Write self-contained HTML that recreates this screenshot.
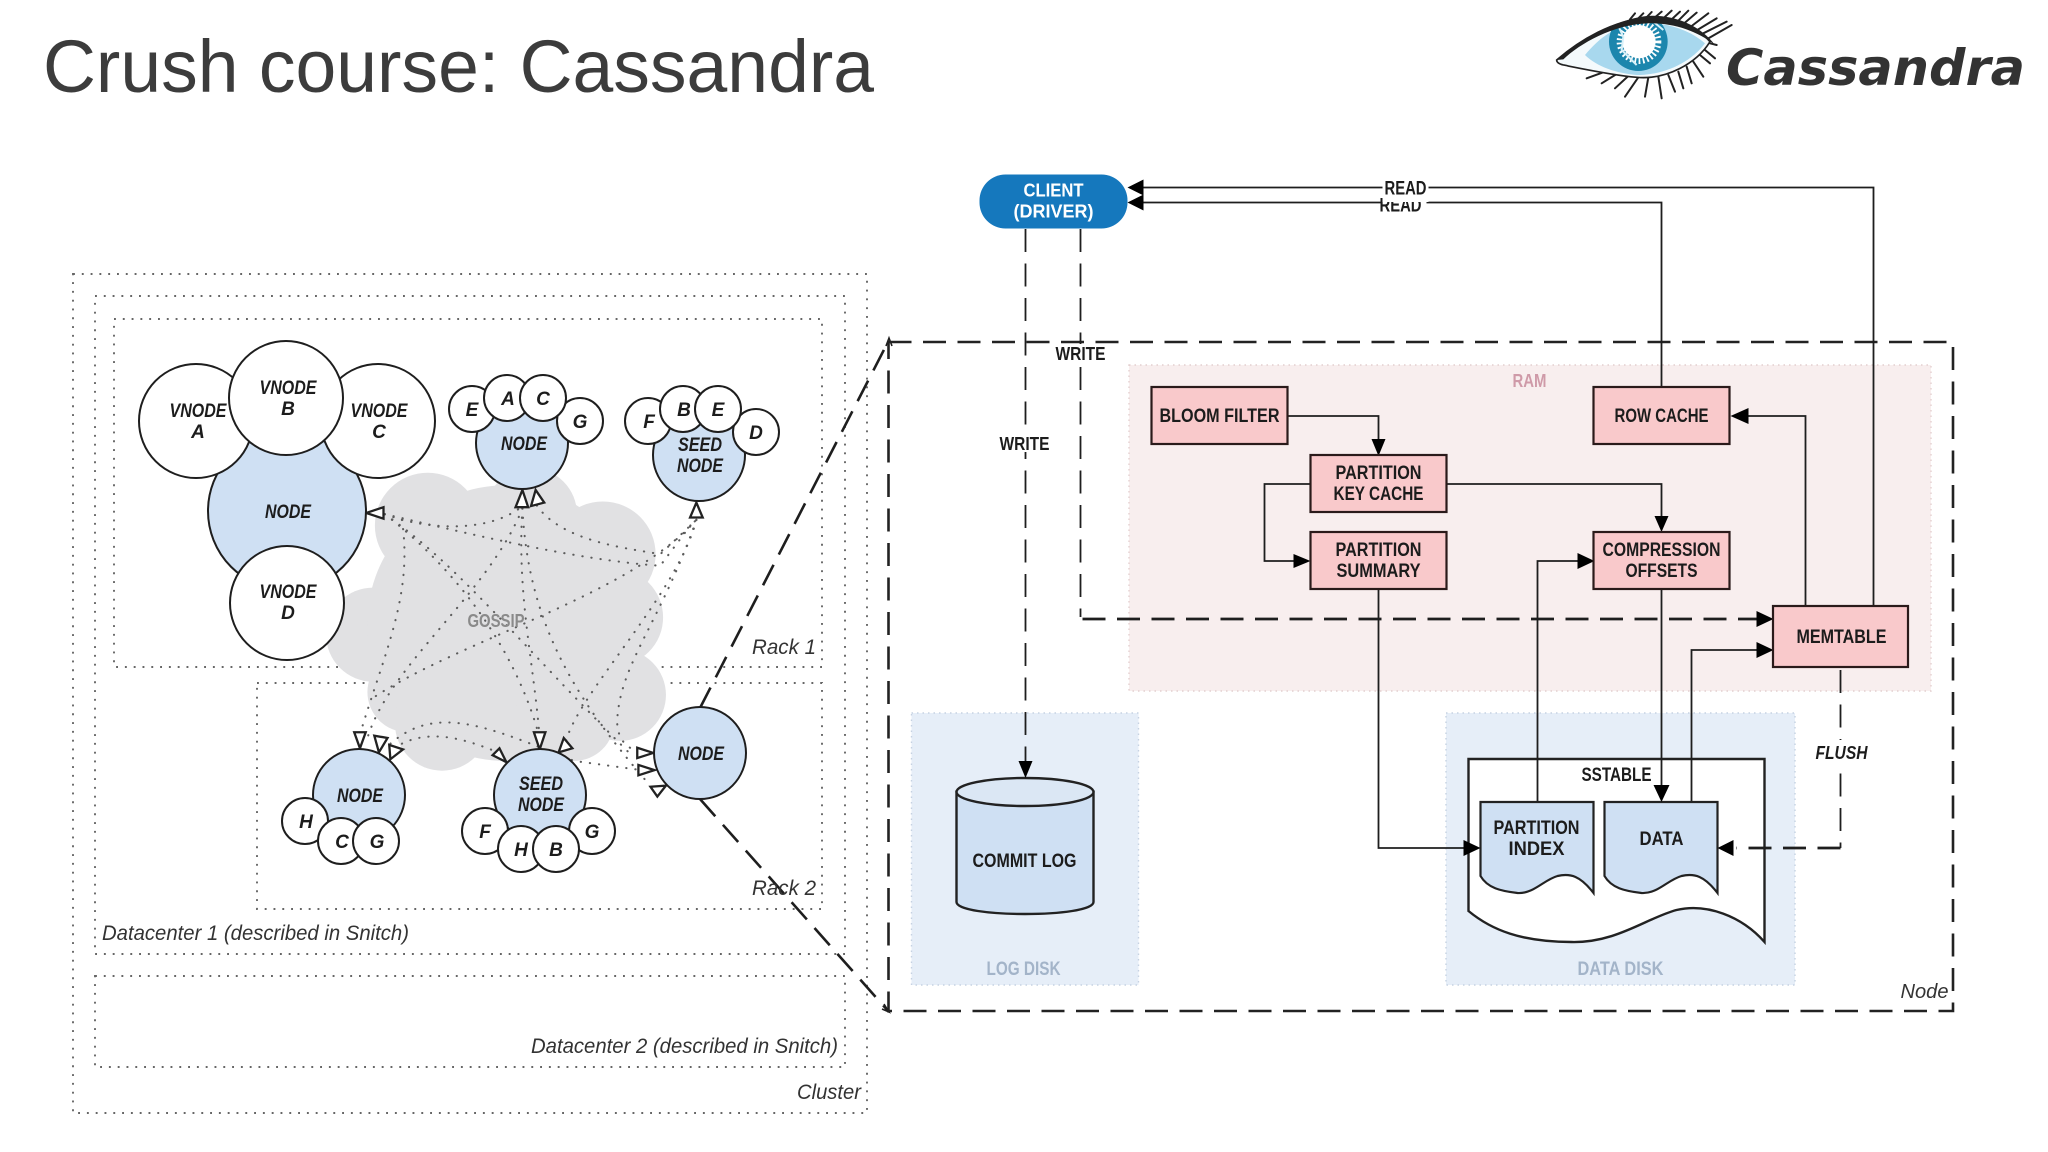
<!DOCTYPE html>
<html><head><meta charset="utf-8"><title>Crush course: Cassandra</title>
<style>html,body{margin:0;padding:0;background:#fff;width:2048px;height:1152px;overflow:hidden}svg{display:block}
.h{font-family:"Liberation Sans",sans-serif;font-style:italic;font-weight:bold;fill:#1c1c1c;text-anchor:middle}
.b{font-family:"Liberation Sans",sans-serif;font-weight:bold;fill:#1c1c1c;text-anchor:middle}
.l{font-family:"Liberation Sans",sans-serif;font-style:italic;fill:#333}
.dot{fill:none;stroke:#666;stroke-width:1.9;stroke-dasharray:1.9 6.9}
.c{stroke:#1e1e1e;stroke-width:2}
.w{fill:#fff}.n{fill:#cfe0f3}.p{fill:#f9c9cb;stroke:#2a1a1a;stroke-width:2.2}
.ln{fill:none;stroke:#1e1e1e;stroke-width:1.8}
.a{fill:#000}
</style></head><body>
<svg width="2048" height="1152" viewBox="0 0 2048 1152" xmlns="http://www.w3.org/2000/svg">
<defs><clipPath id="eye"><path d="M50 180C120 120 220 60 320 55C400 50 470 80 510 125C470 190 380 240 290 232C220 226 120 205 70 195C58 192 50 187 50 180Z"/></clipPath></defs>
<rect width="2048" height="1152" fill="#fff"/>
<text x="43" y="92" font-family="Liberation Sans, sans-serif" font-size="74" fill="#3c3c3c" textLength="831" lengthAdjust="spacingAndGlyphs">Crush course: Cassandra</text>

<!-- logo -->
<g transform="translate(1540,0) scale(.3333)">
<g stroke="#222" stroke-width="6" fill="none" stroke-linecap="round">
<path d="M270 58L285 40M295 55L310 40M320 52L335 36M345 52L365 35M370 55L395 32M395 58L420 35M415 62L445 32M435 68L470 38M455 78L505 40M475 88L530 55M490 100L560 65M505 115L575 75"/>
<path d="M510 130L530 135M495 150L525 175M480 165L510 190M460 185L490 230M440 200L455 250M415 215L430 265M385 225L405 275M355 230L365 295M325 232L315 290M295 232L255 290M265 228L225 265M230 222L185 250M195 215L140 235"/>
</g>
<path d="M50 180C120 120 220 60 320 55C400 50 470 80 510 125C470 190 380 240 290 232C220 226 120 205 70 195C58 192 50 187 50 180Z" fill="#f4fafc" stroke="#222" stroke-width="5"/>
<g clip-path="url(#eye)">
<path d="M135 165C180 110 230 75 300 70C380 65 450 90 495 130C450 190 370 225 290 225C230 220 170 200 135 165Z" fill="#a8d8ee"/>
<circle cx="295" cy="125" r="88" fill="#1c86ad"/>
<circle cx="297" cy="125" r="50" fill="#fff"/>
<circle cx="297" cy="125" r="56" fill="none" stroke="#fff" stroke-width="22" stroke-dasharray="5 7"/>
<path d="M238 85L250 110L245 150L290 195M340 65L370 90" fill="none" stroke="#d8f0f8" stroke-width="6"/>
</g>
<path d="M50 180C120 120 220 60 320 48C400 42 480 75 525 135C470 92 400 68 320 70C220 74 120 130 70 178Z" fill="#222"/>
</g>
<text x="1726" y="85" font-family="DejaVu Sans, sans-serif" font-size="50" font-weight="bold" font-style="italic" fill="#333" textLength="299" lengthAdjust="spacingAndGlyphs">Cassandra</text>

<!-- left containers -->
<rect class="dot" x="73" y="274" width="794" height="839"/>
<rect class="dot" x="95" y="296" width="750" height="658"/>
<rect class="dot" x="95" y="976" width="750" height="91"/>
<rect class="dot" x="114" y="319" width="708" height="348"/>
<rect class="dot" x="257" y="683" width="565" height="226"/>

<!-- cloud -->
<g transform="translate(0,250) scale(.5741)">
<g fill="#e1e1e3">
<circle cx="745" cy="480" r="92"/><circle cx="925" cy="460" r="80"/><circle cx="1050" cy="530" r="92"/>
<circle cx="1070" cy="640" r="85"/><circle cx="1080" cy="775" r="80"/><circle cx="1000" cy="820" r="70"/>
<circle cx="770" cy="825" r="82"/><circle cx="650" cy="670" r="82"/><circle cx="710" cy="770" r="70"/>
<circle cx="880" cy="650" r="240"/><circle cx="920" cy="850" r="60"/>
</g>
<g fill="none" stroke="#5c5c5c" stroke-width="3.6" stroke-linecap="round" stroke-dasharray="0.5 15.5">
<path d="M670 460C750 490 850 490 905 450"/>
<path d="M670 460C800 490 1000 540 1150 550L1210 470"/>
<path d="M670 460C800 550 900 680 1100 880"/>
<path d="M700 470C720 600 670 700 625 850"/>
<path d="M670 460C800 560 900 700 940 850"/>
<path d="M910 450C900 600 930 720 940 850"/>
<path d="M910 450C850 600 680 720 640 850"/>
<path d="M935 445C980 510 1100 520 1150 530L1213 470"/>
<path d="M1213 470C1100 600 800 680 650 780"/>
<path d="M1213 470C1150 650 1080 720 1075 820C1075 860 1100 870 1115 875"/>
<path d="M680 860C760 790 850 830 1000 890L1110 905"/>
<path d="M700 860C760 830 830 860 880 880"/>
<path d="M910 450C920 650 1000 780 1130 930"/>
<path d="M1213 470C1180 600 1000 780 985 860"/>
</g>
<g fill="#fff" stroke="#222" stroke-width="4">
<polygon points="638,458 668,448 668,468"/>
<polygon points="933,418 925,446 948,440"/>
<polygon points="910,418 898,448 920,448"/>
<polygon points="1213,440 1202,466 1224,466"/>
<polygon points="627,868 617,840 637,840"/>
<polygon points="660,875 652,846 675,850"/>
<polygon points="680,887 678,862 702,870"/>
<polygon points="882,892 858,880 870,868"/>
<polygon points="940,870 930,840 950,840"/>
<polygon points="973,875 982,850 997,868"/>
<polygon points="1138,876 1110,867 1110,885"/>
<polygon points="1140,906 1112,897 1112,915"/>
<polygon points="1160,933 1133,935 1145,952"/>
</g>
</g>
<text class="b" x="496" y="627" font-size="18" style="fill:#8a8a8a" textLength="57" lengthAdjust="spacingAndGlyphs">GOSSIP</text>

<!-- projection lines -->
<path d="M700 708L889 340M700 799L889 1012" fill="none" stroke="#1e1e1e" stroke-width="2.6" stroke-dasharray="23 11.5"/>
<path d="M886 346L889 338L892 346M882 1009L889 1012L884 1004" fill="none" stroke="#1e1e1e" stroke-width="1.6"/>

<!-- big node -->
<circle class="c n" cx="287" cy="511" r="79"/>
<circle class="c w" cx="196" cy="421" r="57"/>
<circle class="c w" cx="378" cy="421" r="57"/>
<circle class="c w" cx="286" cy="398" r="57"/>
<circle class="c w" cx="287" cy="603" r="57"/>
<!-- top node -->
<circle class="c n" cx="522" cy="443" r="46"/>
<circle class="c w" cx="472" cy="409" r="23"/><circle class="c w" cx="580" cy="421" r="23"/>
<circle class="c w" cx="507" cy="398" r="23"/><circle class="c w" cx="543" cy="398" r="23"/>
<!-- seed top -->
<circle class="c n" cx="699" cy="455" r="46"/>
<circle class="c w" cx="648" cy="421" r="23"/><circle class="c w" cx="756" cy="432" r="23"/>
<circle class="c w" cx="683" cy="409" r="23"/><circle class="c w" cx="718" cy="409" r="23"/>
<!-- right node -->
<circle class="c n" cx="700" cy="753" r="46"/>
<!-- bottom left -->
<circle class="c n" cx="359" cy="795" r="46"/>
<circle class="c w" cx="305" cy="821" r="23"/><circle class="c w" cx="341" cy="841" r="23"/><circle class="c w" cx="376" cy="841" r="23"/>
<!-- seed bottom -->
<circle class="c n" cx="540" cy="795" r="46"/>
<circle class="c w" cx="485" cy="831" r="23"/><circle class="c w" cx="592" cy="831" r="23"/>
<circle class="c w" cx="521" cy="849" r="23"/><circle class="c w" cx="556" cy="849" r="23"/>

<g font-size="19">
<text class="h" x="198" y="417" textLength="57" lengthAdjust="spacingAndGlyphs">VNODE</text><text class="h" x="198" y="438">A</text>
<text class="h" x="288" y="394" textLength="57" lengthAdjust="spacingAndGlyphs">VNODE</text><text class="h" x="288" y="415">B</text>
<text class="h" x="379" y="417" textLength="57" lengthAdjust="spacingAndGlyphs">VNODE</text><text class="h" x="379" y="438">C</text>
<text class="h" x="288" y="518" textLength="46" lengthAdjust="spacingAndGlyphs">NODE</text>
<text class="h" x="288" y="598" textLength="57" lengthAdjust="spacingAndGlyphs">VNODE</text><text class="h" x="288" y="619">D</text>
<text class="h" x="524" y="450" textLength="46" lengthAdjust="spacingAndGlyphs">NODE</text>
<text class="h" x="472" y="416">E</text><text class="h" x="508" y="405">A</text><text class="h" x="543" y="405">C</text><text class="h" x="580" y="428">G</text>
<text class="h" x="649" y="428">F</text><text class="h" x="684" y="416">B</text><text class="h" x="718" y="416">E</text><text class="h" x="756" y="439">D</text>
<text class="h" x="700" y="451" textLength="44" lengthAdjust="spacingAndGlyphs">SEED</text><text class="h" x="700" y="472" textLength="46" lengthAdjust="spacingAndGlyphs">NODE</text>
<text class="h" x="701" y="760" textLength="46" lengthAdjust="spacingAndGlyphs">NODE</text>
<text class="h" x="360" y="802" textLength="46" lengthAdjust="spacingAndGlyphs">NODE</text>
<text class="h" x="306" y="828">H</text><text class="h" x="342" y="848">C</text><text class="h" x="377" y="848">G</text>
<text class="h" x="541" y="790" textLength="44" lengthAdjust="spacingAndGlyphs">SEED</text><text class="h" x="541" y="811" textLength="46" lengthAdjust="spacingAndGlyphs">NODE</text>
<text class="h" x="485" y="838">F</text><text class="h" x="521" y="856">H</text><text class="h" x="556" y="856">B</text><text class="h" x="592" y="838">G</text>
</g>

<g font-size="21">
<text class="l" x="752" y="654" textLength="64" lengthAdjust="spacingAndGlyphs">Rack 1</text>
<text class="l" x="752" y="895" textLength="64" lengthAdjust="spacingAndGlyphs">Rack 2</text>
<text class="l" x="102" y="940" textLength="307" lengthAdjust="spacingAndGlyphs">Datacenter 1 (described in Snitch)</text>
<text class="l" x="531" y="1053" textLength="307" lengthAdjust="spacingAndGlyphs">Datacenter 2 (described in Snitch)</text>
<text class="l" x="797" y="1099" textLength="64" lengthAdjust="spacingAndGlyphs">Cluster</text>
</g>

<!-- right side containers -->
<rect x="1129" y="365" width="802" height="326" fill="#f8eeee" stroke="#e3cfcf" stroke-width="1.4" stroke-dasharray="1.5 4"/>
<rect x="888.5" y="342" width="1064.5" height="669" fill="none" stroke="#222" stroke-width="2.6" stroke-dasharray="23 11.5"/>

<g transform="translate(-3.5,-2)">
<rect x="915" y="715" width="227" height="272" fill="#e6eef8" stroke="#c5d2e2" stroke-width="1.4" stroke-dasharray="1.5 4"/>
<rect x="1449.5" y="715" width="349" height="272" fill="#e6eef8" stroke="#c5d2e2" stroke-width="1.4" stroke-dasharray="1.5 4"/>
<text class="b" x="1533" y="389" font-size="18" style="fill:#cf9aa8" textLength="34" lengthAdjust="spacingAndGlyphs">RAM</text>
<text class="b" x="1027" y="977" font-size="19" style="fill:#a3b4c9" textLength="74" lengthAdjust="spacingAndGlyphs">LOG DISK</text>
<text class="b" x="1624" y="977" font-size="19" style="fill:#a3b4c9" textLength="86" lengthAdjust="spacingAndGlyphs">DATA DISK</text>
<text class="l" x="1904" y="1000" font-size="20" textLength="48" lengthAdjust="spacingAndGlyphs">Node</text>

<!-- SSTable -->
<path d="M1472 761H1768V944C1745 918 1710 905 1680 912C1650 920 1620 945 1575 944C1525 944 1495 932 1472 913Z" fill="#fff" stroke="#222" stroke-width="2.4"/>

<!-- connectors -->
<path class="ln" d="M1029 231V782" stroke-dasharray="23 11.5"/>
<path class="ln" d="M1084 231V619" stroke-dasharray="23 11.5"/>
<path class="ln" style="stroke-width:2.8" d="M1086 621H1760" stroke-dasharray="23 11.5"/>
<path class="ln" d="M1844 672V850" stroke-dasharray="23 11.5"/>
<path class="ln" style="stroke-width:2.8" d="M1844 850H1740" stroke-dasharray="23 11.5"/>
<path class="ln" d="M1877 610V189.5H1140"/>
<path class="ln" d="M1665 388V204.500H1140"/>
<path class="ln" d="M1292 418H1382V446"/>
<path class="ln" d="M1450 486H1665V523"/>
<path class="ln" d="M1314 486H1268V563H1300"/>
<path class="ln" d="M1809 610V418H1745"/>
<path class="ln" d="M1541 804V563H1585"/>
<path class="ln" d="M1665 592V790"/>
<path class="ln" d="M1695 804V652H1765"/>
<path class="ln" d="M1382 592V850H1470"/>
<g class="a">
<polygon points="1131,189.500 1147,181.500 1147,197.500"/>
<polygon points="1131,204.500 1147,196.500 1147,212.500"/>
<polygon points="1382,458 1375,441 1389,441"/>
<polygon points="1665,534 1658,518 1672,518"/>
<polygon points="1314,563 1297,556 1297,570"/>
<polygon points="1734,418 1752,410 1752,426"/>
<polygon points="1598,563 1581,555 1581,571"/>
<polygon points="1777,652 1760,644 1760,660"/>
<polygon points="1777,621 1760,613 1760,629"/>
</g>

<!-- client -->
<rect x="983" y="176.500" width="148" height="54" rx="26" fill="#1578bd"/>
<text class="b" x="1057" y="198.500" font-size="18" style="fill:#fff" textLength="60" lengthAdjust="spacingAndGlyphs">CLIENT</text>
<text class="b" x="1057" y="219.500" font-size="18" style="fill:#fff" textLength="80" lengthAdjust="spacingAndGlyphs">(DRIVER)</text>

<!-- labels with halo -->
<rect x="1384" y="196" width="46" height="14" fill="#fff"/>
<text class="b" x="1404" y="213.500" font-size="19" textLength="42" lengthAdjust="spacingAndGlyphs">READ</text>
<rect x="1386" y="178" width="46" height="26" fill="#fff"/>
<text class="b" x="1409" y="196.500" font-size="19" textLength="42" lengthAdjust="spacingAndGlyphs">READ</text>
<rect x="1056" y="346" width="56" height="20" fill="#fff"/>
<text class="b" x="1084" y="362" font-size="18" textLength="50" lengthAdjust="spacingAndGlyphs">WRITE</text>
<rect x="1000" y="434" width="56" height="20" fill="#fff"/>
<text class="b" x="1028" y="452" font-size="18" textLength="50" lengthAdjust="spacingAndGlyphs">WRITE</text>
<rect x="1816" y="742" width="58" height="24" fill="#fff"/>
<text class="h" x="1845" y="761" font-size="18" textLength="52" lengthAdjust="spacingAndGlyphs">FLUSH</text>
<text class="b" x="1620" y="783" font-size="19" textLength="70" lengthAdjust="spacingAndGlyphs">SSTABLE</text>

<!-- boxes -->
<rect class="p" x="1155" y="389" width="136" height="57"/>
<rect class="p" x="1597" y="389" width="136" height="57"/>
<rect class="p" x="1314" y="457" width="136" height="57"/>
<rect class="p" x="1314" y="534" width="136" height="57"/>
<rect class="p" x="1597" y="534" width="136" height="57"/>
<rect class="p" x="1776.500" y="608" width="135" height="61"/>
<g font-size="19">
<text class="b" x="1223" y="424" textLength="120" lengthAdjust="spacingAndGlyphs">BLOOM FILTER</text>
<text class="b" x="1665" y="424" textLength="94" lengthAdjust="spacingAndGlyphs">ROW CACHE</text>
<text class="b" x="1382" y="481" textLength="86" lengthAdjust="spacingAndGlyphs">PARTITION</text>
<text class="b" x="1382" y="502" textLength="90" lengthAdjust="spacingAndGlyphs">KEY CACHE</text>
<text class="b" x="1382" y="558" textLength="86" lengthAdjust="spacingAndGlyphs">PARTITION</text>
<text class="b" x="1382" y="579" textLength="84" lengthAdjust="spacingAndGlyphs">SUMMARY</text>
<text class="b" x="1665" y="558" textLength="118" lengthAdjust="spacingAndGlyphs">COMPRESSION</text>
<text class="b" x="1665" y="579" textLength="72" lengthAdjust="spacingAndGlyphs">OFFSETS</text>
<text class="b" x="1845" y="645" textLength="90" lengthAdjust="spacingAndGlyphs">MEMTABLE</text>
</g>

<!-- docs -->
<path d="M1484 804H1597V895C1584 878 1574 875 1561 878C1547 882 1537 896 1521 895C1504 893 1491 890 1484 878Z" fill="#cfe0f3" stroke="#222" stroke-width="2.2"/>
<path d="M1608 804H1721V895C1708 878 1698 875 1685 878C1671 882 1661 896 1645 895C1628 893 1615 890 1608 878Z" fill="#cfe0f3" stroke="#222" stroke-width="2.2"/>
<polygon class="a" points="1484,850 1467,842 1467,858"/>
<polygon class="a" points="1721,850 1737,842 1737,858"/>
<polygon class="a" points="1665,804 1657,787 1673,787"/>
<g font-size="19">
<text class="b" x="1540" y="836" textLength="86" lengthAdjust="spacingAndGlyphs">PARTITION</text>
<text class="b" x="1540" y="857" textLength="56" lengthAdjust="spacingAndGlyphs">INDEX</text>
<text class="b" x="1665" y="847" textLength="44" lengthAdjust="spacingAndGlyphs">DATA</text>
</g>

<!-- cylinder -->
<path d="M960 794V904C960 920 1097 920 1097 904V794Z" fill="#cfe0f3" stroke="#222" stroke-width="2.4"/>
<ellipse cx="1028.5" cy="794" rx="68.5" ry="14" fill="#dbe7f4" stroke="#222" stroke-width="2.4"/>
<polygon class="a" points="1029,780 1022,763 1036,763"/>
<text class="b" x="1028" y="869" font-size="19" textLength="104" lengthAdjust="spacingAndGlyphs">COMMIT LOG</text>
</g>
</svg>
</body></html>
